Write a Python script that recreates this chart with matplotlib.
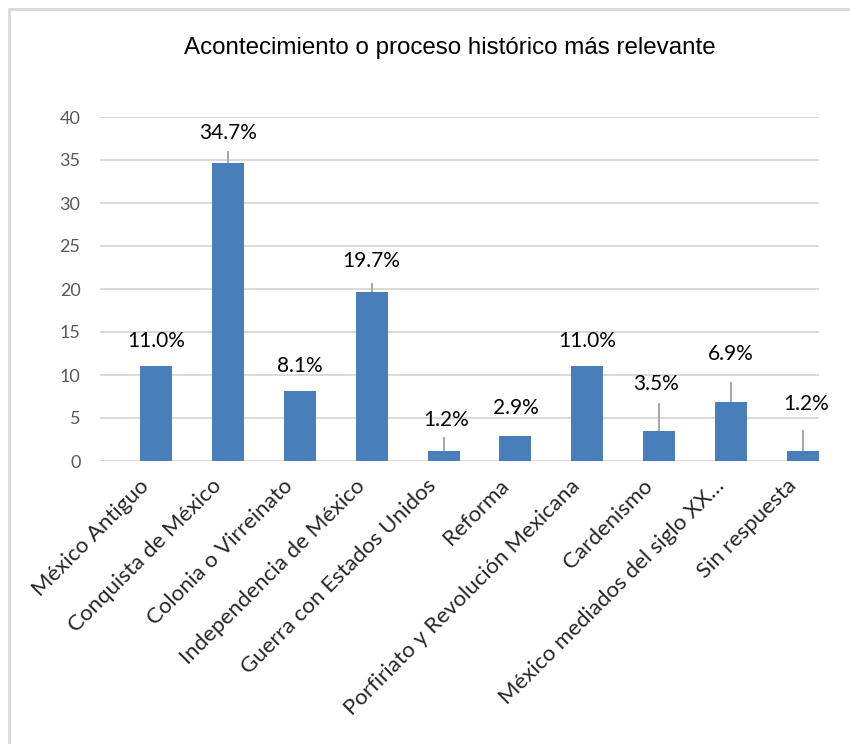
import matplotlib
matplotlib.use("Agg")
import matplotlib.pyplot as plt
from matplotlib.lines import Line2D
from matplotlib.transforms import ScaledTranslation

categories = [
    "México Antiguo",
    "Conquista de México",
    "Colonia o Virreinato",
    "Independencia de México",
    "Guerra con Estados Unidos",
    "Reforma",
    "Porfiriato y Revolución Mexicana",
    "Cardenismo",
    "México mediados del siglo XX…",
    "Sin respuesta",
]
values = [11.0, 34.7, 8.1, 19.7, 1.2, 2.9, 11.0, 3.5, 6.9, 1.2]
y_ticks = [0, 5, 10, 15, 20, 25, 30, 35, 40]
title = "Acontecimiento o proceso histórico más relevante"

# data-label placement: lift above the bar (axis units), sideways nudge (bar units),
# and gap between label centre and the top of its leader line (0 = no leader line)
label_lift = [3.0, 3.4, 2.9, 3.6, 3.6, 3.3, 3.0, 5.5, 5.6, 5.4]
label_shift = [0, 0, 0, 0, 0.04, 0, 0, -0.04, 0, 0.04]
leader_gap = [0, 2.0, 0, 2.6, 2.0, 0, 0, 2.3, 3.3, 3.0]

BAR = "#4A7EBB"
GRID = "#D9D9D9"
FONT = "Lato"

fig = plt.figure(figsize=(8.5, 7.44), dpi=100)
ax = fig.add_axes([100 / 850, 1 - 461 / 744, 719 / 850, 344 / 744])

x = list(range(len(categories)))
ax.bar(x, values, width=0.445, color=BAR, zorder=3)

ax.set_ylim(0, 40)
ax.set_xlim(-0.778, 9.2225)
ax.set_yticks(y_ticks)
ax.yaxis.grid(True, color=GRID, linewidth=1.4, zorder=0)
ax.set_axisbelow(True)
for s in ax.spines.values():
    s.set_visible(False)
ax.tick_params(axis="y", length=0, pad=14, labelsize=13, labelcolor="#595959")
for t in ax.get_yticklabels():
    t.set_fontfamily(FONT)

ax.set_xticks(x)
ax.set_xticklabels(categories, rotation=45, ha="right", va="center",
                   rotation_mode="anchor", fontsize=16, color="#262626",
                   fontfamily=FONT)
ax.tick_params(axis="x", length=0, pad=12)
nudge = ScaledTranslation(-10 / 100, -5 / 100, fig.dpi_scale_trans)
for t in ax.get_xticklabels():
    t.set_transform(t.get_transform() + nudge)

for xi, v, lift, dx, gap in zip(x, values, label_lift, label_shift, leader_gap):
    ly = v + lift
    ax.text(xi + dx, ly, f"{v:.1f}%", ha="center", va="center",
            fontsize=15, fontfamily=FONT, color="#000000", zorder=5)
    if gap > 0:
        ax.plot([xi, xi], [v, ly - gap], color="#A6A6A6",
                linewidth=1.4, zorder=4, solid_capstyle="butt")

fig.text(450 / 850, 1 - 48 / 744, title, ha="center", va="center",
         fontsize=17.4, fontfamily="Liberation Sans", color="#000000")

# chart-area frame
fx = 8.5 / 850
fy = 1 - 8.5 / 744
fig.add_artist(Line2D([fx, fx, 1.0], [0.0, fy, fy], transform=fig.transFigure,
                      color=GRID, linewidth=2.0))

fig.savefig("out.png", dpi=100, facecolor="white")
